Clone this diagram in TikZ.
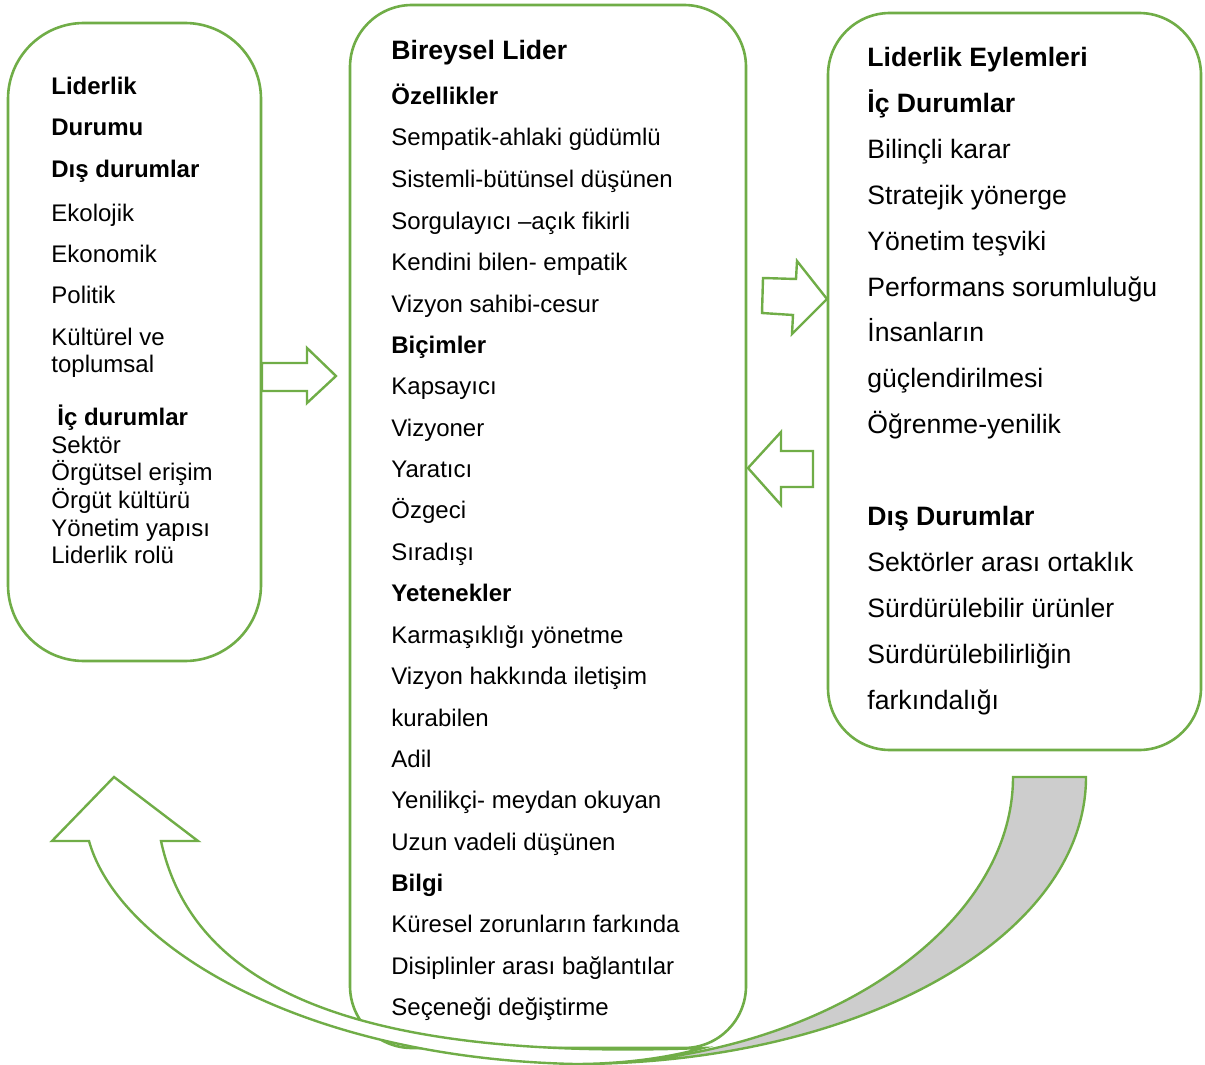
\documentclass[tikz,border=0pt]{standalone}
\usepackage{fontspec}
\setmainfont{Liberation Sans}
\definecolor{grn}{RGB}{112,173,71}
\definecolor{bandgray}{RGB}{205,205,205}
\begin{document}
\begin{tikzpicture}[x=0.5pt,y=-0.5pt,
  outl/.style={draw=grn,line width=1.2pt,line join=miter},
  boxs/.style={draw=grn,line width=1.3pt,fill=white},
  lt/.style={anchor=base west,inner sep=0pt,font=\fontsize{12}{14}\selectfont},
  ltb/.style={anchor=base west,inner sep=0pt,font=\fontsize{12}{14}\selectfont\bfseries},
  bt/.style={anchor=base west,inner sep=0pt,font=\fontsize{13.3}{16}\selectfont\bfseries},
  rt/.style={anchor=base west,inner sep=0pt,font=\fontsize{13.3}{16}\selectfont},
  rtb/.style={anchor=base west,inner sep=0pt,font=\fontsize{13.3}{16}\selectfont\bfseries}]
\useasboundingbox (0,0) rectangle (1205,1065);

% boxes
\draw[boxs,rounded corners=38pt] (8,23) rectangle (261,661);
\draw[boxs,rounded corners=31pt] (350,5) rectangle (746,1048);
\draw[boxs,rounded corners=31pt] (828,13) rectangle (1201,750);
\coordinate (leftbox) at (134,342);
\coordinate (midbox) at (548,526);
\coordinate (rightbox) at (1014,381);

% block arrows
\draw[outl,fill=white] (262,363) -- (307,363) -- (307,348) -- (336,376) -- (307,403) -- (307,391) -- (262,391) -- cycle;
\draw[outl,fill=white] (763,278) -- (796,279) -- (797,261) -- (827,299) -- (792,334) -- (793,315) -- (762,313) -- cycle;
\draw[outl,fill=white] (748,468) -- (781,432) -- (781,451) -- (813,451) -- (813,487) -- (781,487) -- (781,505) -- cycle;

% curved up arrow: back band
\draw[outl,fill=bandgray] (1013,777) -- (1086,777) .. controls (1086,937) and (860,1064) .. (575,1064)
  .. controls (809,1064) and (1013,934) .. (1013,777) -- cycle;
% curved up arrow: front
\draw[outl,fill=white] (52,841) -- (114,777) -- (198,841) -- (161,841)
  .. controls (190,975) and (330,1062) .. (703,1048)
  .. controls (667,1058) and (622,1064) .. (575,1064)
  .. controls (300,1058) and (118,945) .. (89,841) -- cycle;

% left box text
\node[ltb] (l1) at (51,95) {Liderlik};
\node[ltb] (l2) at (51,136) {Durumu};
\node[ltb] (l3) at (51,177) {Dış durumlar};
\node[lt] (l4) at (51,221) {Ekolojik};
\node[lt] (l5) at (51,262) {Ekonomik};
\node[lt] (l6) at (51,303) {Politik};
\node[lt] (l7) at (51,345) {Kültürel ve};
\node[lt] (l8) at (51,372) {toplumsal};
\node[ltb] (l9) at (57,425) {İç durumlar};
\node[lt] (l10) at (51,453) {Sektör};
\node[lt] (l11) at (51,480) {Örgütsel erişim};
\node[lt] (l12) at (51,508) {Örgüt kültürü};
\node[lt] (l13) at (51,536) {Yönetim yapısı};
\node[lt] (l14) at (51,563) {Liderlik rolü};

% middle box text
\node[bt] (m0) at (391,60) {Bireysel Lider};
\node[ltb] (m1) at (391,104.5) {Özellikler};
\node[lt] (m2) at (391,146) {Sempatik-ahlaki güdümlü};
\node[lt] (m3) at (391,187.5) {Sistemli-bütünsel düşünen};
\node[lt] (m4) at (391,229) {Sorgulayıcı –açık fikirli};
\node[lt] (m5) at (391,270.5) {Kendini bilen- empatik};
\node[lt] (m6) at (391,312) {Vizyon sahibi-cesur};
\node[ltb] (m7) at (391,353) {Biçimler};
\node[lt] (m8) at (391,394.5) {Kapsayıcı};
\node[lt] (m9) at (391,436) {Vizyoner};
\node[lt] (m10) at (391,477) {Yaratıcı};
\node[lt] (m11) at (391,518.5) {Özgeci};
\node[lt] (m12) at (391,560) {Sıradışı};
\node[ltb] (m13) at (391,601.5) {Yetenekler};
\node[lt] (m14) at (391,643) {Karmaşıklığı yönetme};
\node[lt] (m15) at (391,684.5) {Vizyon hakkında iletişim};
\node[lt] (m16) at (391,726) {kurabilen};
\node[lt] (m17) at (391,767) {Adil};
\node[lt] (m18) at (391,808.5) {Yenilikçi- meydan okuyan};
\node[lt] (m19) at (391,850) {Uzun vadeli düşünen};
\node[ltb] (m20) at (391,891) {Bilgi};
\node[lt] (m21) at (391,932.5) {Küresel zorunların farkında};
\node[lt] (m22) at (391,974) {Disiplinler arası bağlantılar};
\node[lt] (m23) at (391,1015.5) {Seçeneği değiştirme};

% right box text
\node[rtb] (r1) at (867,66.5) {Liderlik Eylemleri};
\node[rtb] (r2) at (867,112.4) {İç Durumlar};
\node[rt] (r3) at (867,158.3) {Bilinçli karar};
\node[rt] (r4) at (867,204.2) {Stratejik yönerge};
\node[rt] (r5) at (867,250.1) {Yönetim teşviki};
\node[rt] (r6) at (867,296) {Performans sorumluluğu};
\node[rt] (r7) at (867,341.9) {İnsanların};
\node[rt] (r8) at (867,387.8) {güçlendirilmesi};
\node[rt] (r9) at (867,433.7) {Öğrenme-yenilik};
\node[rtb] (r10) at (867,525.5) {Dış Durumlar};
\node[rt] (r11) at (867,571.4) {Sektörler arası ortaklık};
\node[rt] (r12) at (867,617.3) {Sürdürülebilir ürünler};
\node[rt] (r13) at (867,663.2) {Sürdürülebilirliğin};
\node[rt] (r14) at (867,709.1) {farkındalığı};
\end{tikzpicture}
\end{document}
